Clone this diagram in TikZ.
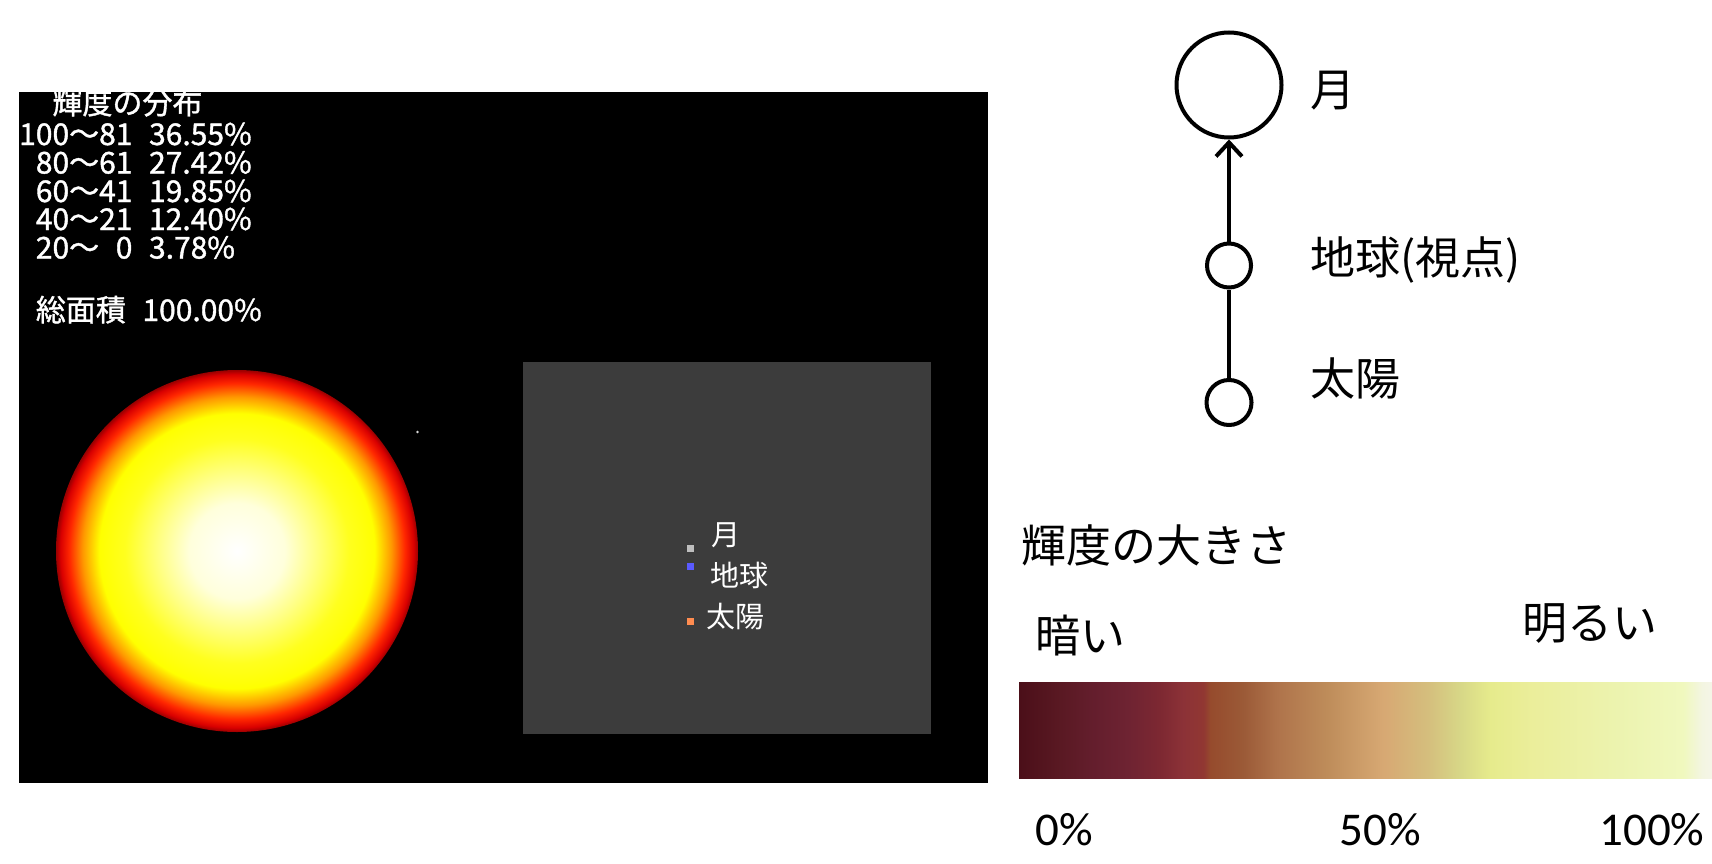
\documentclass[tikz,border=0pt]{standalone}
\usepackage{fontspec}
\newfontfamily\jpfont{Noto Sans CJK JP}
\newfontfamily\lcdfont[FakeBold=1.2]{Noto Sans CJK JP}
\newfontfamily\pctfont{Carlito}
\usetikzlibrary{arrows.meta}

\definecolor{panelgray}{RGB}{60,60,60}
\definecolor{moondot}{RGB}{190,190,190}
\definecolor{earthdot}{RGB}{90,90,255}
\definecolor{sundot}{RGB}{255,140,80}

% disc brightness, rim of the disc at 25bp
\pgfdeclareradialshading{moonglow}{\pgfpoint{0bp}{0bp}}{%
  rgb(0bp)=(1,1,1); rgb(6.6bp)=(1,1,0.86); rgb(11bp)=(1,1,0.5);
  rgb(15.5bp)=(1,1,0.12); rgb(19bp)=(1,1,0); rgb(21.3bp)=(1,0.6,0);
  rgb(23.2bp)=(1,0.15,0); rgb(24.4bp)=(0.85,0,0); rgb(25bp)=(0.6,0,0);
  rgb(50bp)=(0,0,0)}

% dark -> bright, bar runs from 25bp to 75bp
\pgfdeclarehorizontalshading{brightscale}{100bp}{%
  rgb(0bp)=(0.294,0.059,0.098); rgb(25bp)=(0.294,0.059,0.098);
  rgb(28bp)=(0.353,0.098,0.137); rgb(30.35bp)=(0.392,0.118,0.176);
  rgb(32.8bp)=(0.431,0.137,0.196); rgb(35.15bp)=(0.49,0.157,0.196);
  rgb(36.85bp)=(0.549,0.196,0.216); rgb(38.3bp)=(0.569,0.216,0.196);
  rgb(38.8bp)=(0.588,0.294,0.176); rgb(41.15bp)=(0.608,0.353,0.216);
  rgb(43.6bp)=(0.686,0.451,0.294); rgb(47.2bp)=(0.745,0.549,0.353);
  rgb(51.25bp)=(0.843,0.659,0.451); rgb(54.45bp)=(0.835,0.745,0.49);
  rgb(56.8bp)=(0.843,0.843,0.529); rgb(59bp)=(0.902,0.922,0.549);
  rgb(62.1bp)=(0.922,0.933,0.608); rgb(68.15bp)=(0.925,0.953,0.686);
  rgb(72.9bp)=(0.941,0.973,0.745); rgb(74.25bp)=(0.953,0.961,0.882);
  rgb(75bp)=(0.961,0.961,0.91); rgb(100bp)=(0.961,0.961,0.91)}

\begin{document}
\begin{tikzpicture}[x=1pt, y=-1pt,
    lcd/.style={text=white, font=\lcdfont\fontsize{30}{30}\selectfont, anchor=base west, inner sep=0pt},
    keytext/.style={text=white, font=\jpfont\fontsize{29}{29}\selectfont, anchor=west, inner sep=0pt},
    dotkey/.style={rectangle, minimum size=7.6pt, inner sep=0pt},
    jplabel/.style={font=\jpfont\fontsize{45}{45}\selectfont, anchor=west, inner sep=0pt},
    pct/.style={font=\pctfont\fontsize{47}{47}\selectfont, inner sep=0pt},
    orb/.style={circle, draw, line width=4pt, inner sep=0pt}]

    \useasboundingbox (0,0) rectangle (1712,864);
    \fill[white] (0,0) rectangle (1712,864);

    % simulation screen
    \fill[black] (19,92) rectangle (988,783);
    \node[lcd] (head) at (19,114) {\hphantom{00}輝度の分布};
    \node[lcd] (row1) at (19,145) {100〜81\hphantom{0}36.55\%};
    \node[lcd] (row2) at (19,173.5) {\hphantom{0}80〜61\hphantom{0}27.42\%};
    \node[lcd] (row3) at (19,202) {\hphantom{0}60〜41\hphantom{0}19.85\%};
    \node[lcd] (row4) at (19,230) {\hphantom{0}40〜21\hphantom{0}12.40\%};
    \node[lcd] (row5) at (19,258.5) {\hphantom{0}20〜\hphantom{0}0\hphantom{0}3.78\%};
    \node[lcd] (total) at (19,321) {\hphantom{0}総面積\hphantom{0}100.00\%};

    \node[circle, minimum size=362pt, inner sep=0pt, shading=moonglow] (disc) at (237,551) {};
    \fill[white!85!black] (417.5,432) circle (1.3);

    \fill[panelgray] (523,362) rectangle (931,734);
    \node[dotkey, fill=moondot] (moonkey) at (690.5,548.5) {};
    \node[dotkey, fill=earthdot] (earthkey) at (690.5,566.5) {};
    \node[dotkey, fill=sundot] (sunkey) at (690.5,621.5) {};
    \node[keytext] (moonname) at (711,535) {月};
    \node[keytext] (earthname) at (710,575.5) {地球};
    \node[keytext] (sunname) at (706,617) {太陽};

    % sun - earth - moon
    \node[orb, minimum size=105pt] (moon) at (1229,85) {};
    \node[orb, minimum size=44pt] (earth) at (1229,265.5) {};
    \node[orb, minimum size=45pt] (sun) at (1229,402.5) {};
    \draw[line width=4pt, -{Straight Barb[length=14pt, width=26pt]}] (earth) -- (moon);
    \draw[line width=4pt] (sun) -- (earth);

    \node[jplabel] (moonlabel) at (1310,91) {月};
    \node[jplabel] (earthlabel) at (1310,260) {地球(視点)};
    \node[jplabel] (sunlabel) at (1310,378) {太陽};

    % brightness scale
    \node[jplabel] (scaletitle) at (1021,545) {輝度の大きさ};
    \node[jplabel] (darklabel) at (1035,636) {暗い};
    \node[jplabel] (brightlabel) at (1522,624) {明るい};
    \node[rectangle, minimum width=693pt, minimum height=96pt, inner sep=0pt,
          anchor=north west, shading=brightscale] (scalebar) at (1019,682) {};
    \node[pct] (p0) at (1064,830) {0\%};
    \node[pct] (p50) at (1380,830) {50\%};
    \node[pct] (p100) at (1652,830) {100\%};

\end{tikzpicture}
\end{document}
